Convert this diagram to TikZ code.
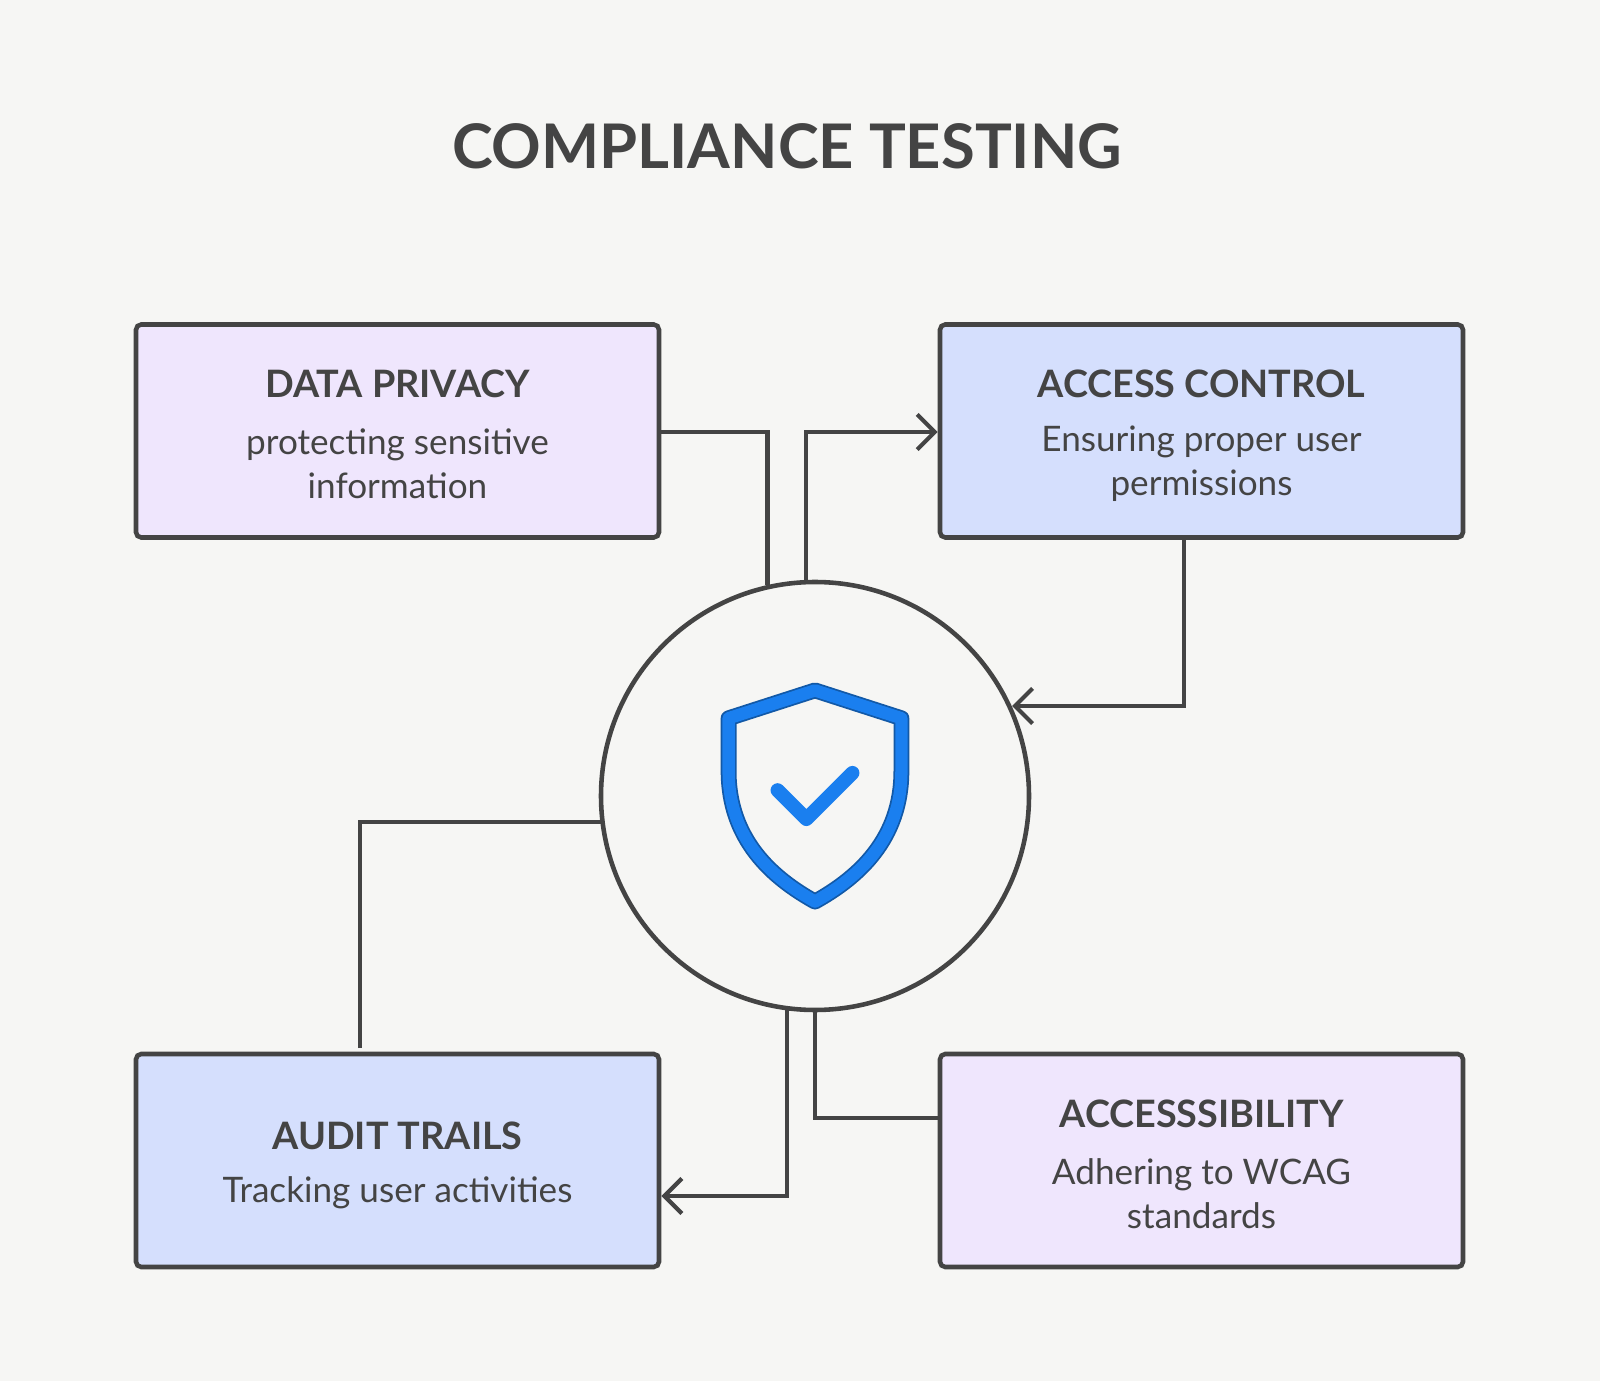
\documentclass[tikz,border=0pt]{standalone}
\usepackage{fontspec}
\setmainfont{Lato}
\usetikzlibrary{arrows.meta}
\definecolor{bg}{HTML}{F6F6F4}
\definecolor{ink}{HTML}{444444}
\definecolor{lav}{HTML}{EFE6FD}
\definecolor{blu}{HTML}{D5DFFD}
\definecolor{shield}{HTML}{1A7FEF}
\begin{document}
\begin{tikzpicture}[x=0.02cm,y=-0.02cm,
  box/.style={draw=ink,line width=2.6pt,rounded corners=3pt,minimum width=523*0.02cm,minimum height=213*0.02cm,inner sep=0pt},
  conn/.style={draw=ink,line width=2.4pt},
  arr/.style={conn,-{Straight Barb[length=10pt,width=20pt,line width=2.4pt]}},
  head/.style={font=\fontsize{21.5}{25}\selectfont\bfseries,text=ink},
  body/.style={font=\fontsize{20}{25}\selectfont,text=ink,align=center}]
\fill[bg] (0,0) rectangle (1600,1381);
\node[font=\fontsize{35}{44}\selectfont\bfseries,text=ink] (title) at (787,146) {COMPLIANCE TESTING};
\node[box,fill=lav] (dp) at (397.5,431) {};
\node[box,fill=blu] (ac) at (1201.5,431) {};
\node[box,fill=blu] (at) at (397.5,1160.5) {};
\node[box,fill=lav] (ax) at (1201.5,1160.5) {};
\node[head] (dph) at (397.5,384) {DATA PRIVACY};
\node[body] (dpb) at (397.5,464) {protecting sensitive\\information};
\node[head] (ach) at (1201.5,384) {ACCESS CONTROL};
\node[body] (acb) at (1201.5,464) {Ensuring proper user\\permissions};
\node[head] (ath) at (397.5,1136) {AUDIT TRAILS};
\node[body] (atb) at (397.5,1193) {Tracking user activities};
\node[head] (axh) at (1201.5,1114) {ACCESSSIBILITY};
\node[body] (axb) at (1201.5,1194) {Adhering to WCAG\\standards};
\node[circle,draw=ink,line width=2.6pt,minimum size=428*0.02cm,inner sep=0pt] (c) at (815,796) {};
\draw[conn] (dp.east |- 0,432) -| (767.5,585);
\draw[arr] (806,580) |- (ac.west |- 0,432);
\draw[arr] (1184,538) |- (1012,706);
\draw[conn] (360,1048) |- (601,822);
\draw[arr] (787,1010) |- (at.east |- 0,1196);
\draw[conn] (815,1010) |- (ax.west |- 0,1118);
\begin{scope}[shift={(815,796)},scale=0.96,line join=round,line cap=round]
\draw[shield!70!black,line width=9pt] (0,-110) -- (90,-81) -- (90,-26) .. controls (90,45) and (45,85) .. (0,110) .. controls (-45,85) and (-90,45) .. (-90,-26) -- (-90,-81) -- cycle;
\draw[shield,line width=7pt] (0,-110) -- (90,-81) -- (90,-26) .. controls (90,45) and (45,85) .. (0,110) .. controls (-45,85) and (-90,45) .. (-90,-26) -- (-90,-81) -- cycle;
\draw[shield,line width=8pt] (-39,-6) -- (-9,24) -- (39,-24);
\end{scope}
\end{tikzpicture}
\end{document}
